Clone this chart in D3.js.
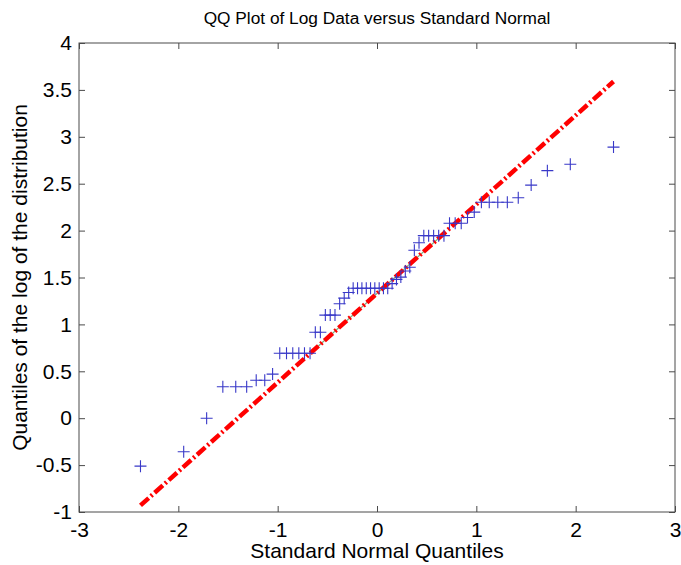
<!DOCTYPE html>
<html><head><meta charset="utf-8">
<script src="https://cdn.jsdelivr.net/npm/d3@7/dist/d3.min.js"></script>
<style>body{margin:0;background:#fff}svg{display:block}text{font-family:"Liberation Sans",Arial,sans-serif}</style>
</head><body><svg id="c" width="681" height="565"></svg>
<script>
// Theoretical standard normal quantiles (n = 58)
const normalQuantiles = [-2.381,-1.946,-1.715,-1.552,-1.422,-1.312,-1.216,-1.130,-1.051,-0.979,-0.911,-0.848,-0.787,-0.730,-0.674,-0.621,-0.570,-0.520,-0.471,-0.423,-0.376,-0.330,-0.285,-0.240,-0.196,-0.152,-0.108,-0.065,-0.022,0.022,0.065,0.108,0.152,0.196,0.240,0.285,0.330,0.376,0.423,0.471,0.520,0.570,0.621,0.674,0.730,0.787,0.848,0.911,0.979,1.051,1.130,1.216,1.312,1.422,1.552,1.715,1.946,2.381];
// Sorted log data
const logData = [-0.511,-0.357,0.000,0.336,0.336,0.336,0.405,0.405,0.470,0.693,0.693,0.693,0.693,0.693,0.693,0.916,0.916,1.099,1.099,1.099,1.220,1.280,1.340,1.386,1.386,1.386,1.386,1.386,1.386,1.386,1.386,1.386,1.435,1.480,1.504,1.569,1.609,1.790,1.870,1.946,1.946,1.946,1.946,1.946,2.079,2.079,2.079,2.140,2.197,2.303,2.303,2.303,2.303,2.351,2.485,2.639,2.708,2.890];
// Reference line end points (extrapolated) and quartile segment
const refLineX = [-2.381, 2.381];
const refLineY = [-0.93, 3.59];
const quartileX = [-0.674, 0.674];
const xTicks = [-3,-2,-1,0,1,2,3];
const yTicks = [-1,-0.5,0,0.5,1,1.5,2,2.5,3,3.5,4];

const svg = d3.select("#c");
const L=79, R=675, T=43, B=512;
const x = d3.scaleLinear().domain([-3,3]).range([L,R]);
const y = d3.scaleLinear().domain([-1,4]).range([B,T]);
const axisColor = "#4a4a4a";
const fmt = d => String(d);

// axes
const ax = (g, axis) => { g.call(axis); g.select(".domain").remove(); g.selectAll("line").attr("stroke",axisColor); g.attr("font-size",null).attr("font-family",null); };
svg.append("g").attr("transform",`translate(0,${B})`).call(g=>ax(g,d3.axisBottom(x).tickValues(xTicks).tickSize(-6).tickPadding(10).tickFormat(fmt)));
svg.append("g").attr("transform",`translate(0,${T})`).call(g=>ax(g,d3.axisTop(x).tickValues(xTicks).tickSize(-6).tickFormat("")));
svg.append("g").attr("transform",`translate(${L},0)`).call(g=>ax(g,d3.axisLeft(y).tickValues(yTicks).tickSize(-6).tickPadding(7).tickFormat(fmt)));
svg.append("g").attr("transform",`translate(${R},0)`).call(g=>ax(g,d3.axisRight(y).tickValues(yTicks).tickSize(-6).tickFormat("")));
svg.selectAll(".tick text").style("font-size","21px").style("font-family","'Liberation Sans', Arial, sans-serif").attr("fill","#000");
svg.append("rect").attr("x",L).attr("y",T).attr("width",R-L).attr("height",B-T).attr("fill","none").attr("stroke",axisColor).attr("stroke-width",1);

// thin quartile line
const slope = (refLineY[1]-refLineY[0])/(refLineX[1]-refLineX[0]);
const lineAt = v => refLineY[0] + slope*(v-refLineX[0]);
svg.append("line").attr("x1",x(quartileX[0])).attr("y1",y(lineAt(quartileX[0])))
  .attr("x2",x(quartileX[1])).attr("y2",y(lineAt(quartileX[1])))
  .attr("stroke","#7fae7f").attr("stroke-width",1.2);
// red dash-dot reference line
svg.append("line").attr("x1",x(refLineX[0])).attr("y1",y(refLineY[0]))
  .attr("x2",x(refLineX[1])).attr("y2",y(refLineY[1]))
  .attr("stroke","#ff0000").attr("stroke-width",4.5).attr("stroke-dasharray","11,3,2,3");

// plus markers
const pts = normalQuantiles.map((q,i)=>[q,logData[i]]);
const s = 6;
svg.append("g").selectAll("path").data(pts).join("path")
  .attr("d",d=>{const cx=x(d[0]), cy=y(d[1]); return `M${cx-s},${cy}H${cx+s}M${cx},${cy-s}V${cy+s}`;})
  .attr("stroke","#3838c8").attr("stroke-width",1.1).attr("fill","none");

// texts
svg.append("text").attr("x",(L+R)/2).attr("y",24).attr("text-anchor","middle").style("font-size","17.3px").text("QQ Plot of Log Data versus Standard Normal");
svg.append("text").attr("x",(L+R)/2).attr("y",558).attr("text-anchor","middle").style("font-size","21px").text("Standard Normal Quantiles");
svg.append("text").attr("transform",`translate(27,${(T+B)/2}) rotate(-90)`).attr("text-anchor","middle").style("font-size","21px").text("Quantiles of the log of the distribution");
</script></body></html>
